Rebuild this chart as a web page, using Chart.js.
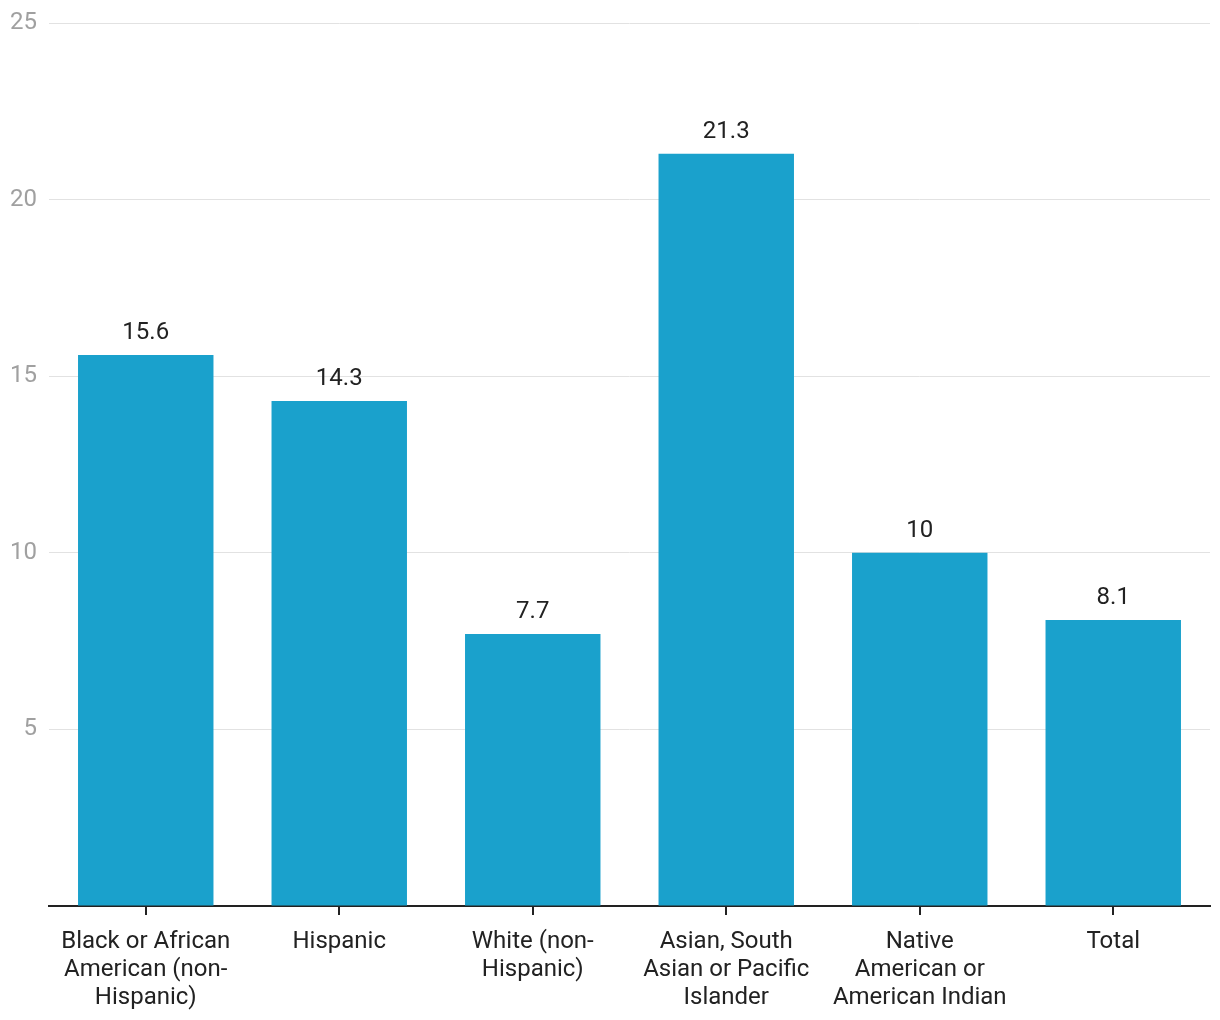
<!DOCTYPE html>
<html>
<head>
<meta charset="utf-8">
<script src="https://cdn.jsdelivr.net/npm/chart.js@4.4.0/dist/chart.umd.min.js"></script>
<style>
  html, body { margin: 0; padding: 0; background: #fff; }
  #wrap { width: 1220px; height: 1020px; position: relative; }
</style>
</head>
<body>
<div id="wrap"><canvas id="myChart"></canvas></div>
<script>
const categories = [
    ['Black or African', 'American (non-', 'Hispanic)'],
    'Hispanic',
    ['White (non-', 'Hispanic)'],
    ['Asian, South', 'Asian or Pacific', 'Islander'],
    ['Native', 'American or', 'American Indian'],
    'Total'
];
const values = [15.6, 14.3, 7.7, 21.3, 10, 8.1];
const yTicks = [5, 10, 15, 20, 25];

const barColor = '#1aa1cc';

// labels drawn on top of each bar
const valueLabels = {
    id: 'valueLabels',
    afterDatasetsDraw(chart) {
        const ctx = chart.ctx;
        const meta = chart.getDatasetMeta(0);
        ctx.save();
        ctx.font = '24px Roboto';
        ctx.fillStyle = '#222';
        ctx.textAlign = 'center';
        ctx.textBaseline = 'alphabetic';
        meta.data.forEach((bar, i) => {
            ctx.fillText(String(values[i]), bar.x, bar.y - 16);
        });
        ctx.restore();
    }
};

const ctx = document.getElementById('myChart').getContext('2d');
const myChart = new Chart(ctx, {
    type: 'bar',
    data: {
        labels: categories,
        datasets: [{
            data: values,
            backgroundColor: barColor,
            categoryPercentage: 0.7,
            barPercentage: 1.0
        }]
    },
    options: {
        responsive: true,
        maintainAspectRatio: false,
        animation: false,
        layout: { padding: { left: 0, right: 10, top: 23, bottom: 0 } },
        plugins: {
            legend: { display: false },
            tooltip: { enabled: false }
        },
        scales: {
            x: {
                grid: {
                    offset: false,
                    drawOnChartArea: false,
                    drawTicks: true,
                    tickLength: 9,
                    color: '#222',
                    lineWidth: 2
                },
                border: { display: true, color: '#222', width: 2 },
                ticks: {
                    color: '#222',
                    font: { family: 'Roboto', size: 24, lineHeight: 1.167 },
                    padding: 13,
                    maxRotation: 0,
                    autoSkip: false
                },
                afterFit(scale) {
                    scale.height = 114;
                    scale.paddingLeft = 0;
                    scale.paddingRight = 0;
                }
            },
            y: {
                min: 0,
                max: 25,
                afterBuildTicks(scale) {
                    scale.ticks = [0].concat(yTicks).map(v => ({ value: v }));
                },
                grid: {
                    drawTicks: false,
                    color: ctx => ctx.tick && ctx.tick.value === 0 ? 'rgba(0,0,0,0)' : '#e2e2e2',
                    lineWidth: 1
                },
                border: { display: false },
                ticks: {
                    color: '#a0a0a0',
                    font: { family: 'Roboto', size: 24 },
                    padding: 12,
                    callback: v => v === 0 ? '' : v
                },
                afterFit(scale) {
                    scale.width = 49;
                    scale.paddingTop = 0;
                    scale.paddingBottom = 0;
                }
            }
        }
    },
    plugins: [valueLabels]
});
</script>
</body>
</html>
